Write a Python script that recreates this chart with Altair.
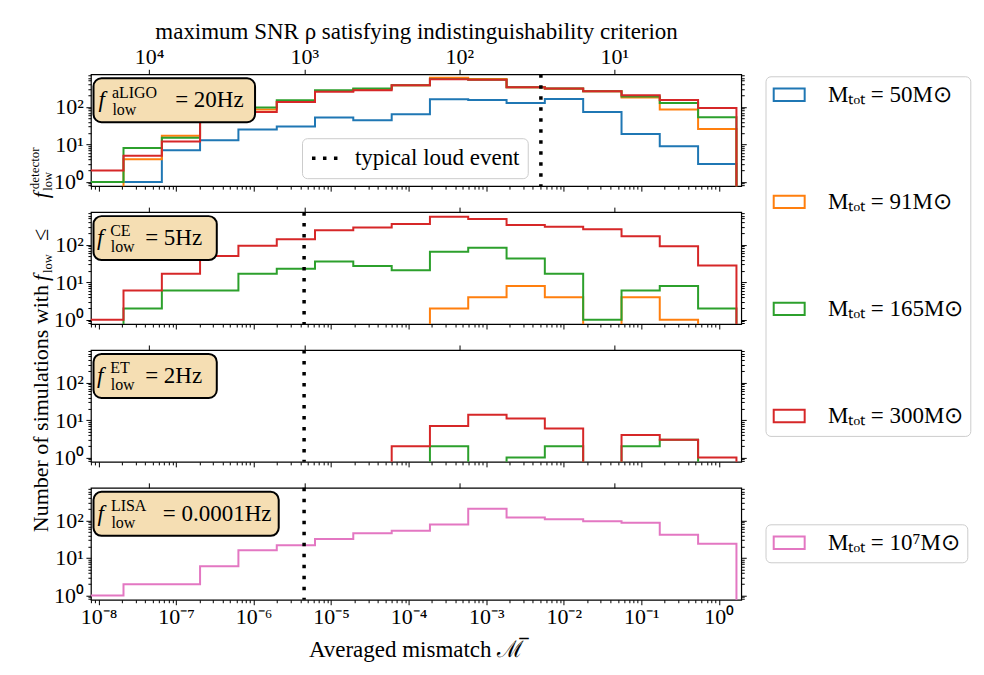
import altair as alt
import pandas as pd

FONT = "Liberation Serif"

# ---------------- data ----------------
EDGES = [6.75e-9, 2.10e-8, 6.56e-8, 2.04e-7, 6.37e-7, 1.99e-6, 6.19e-6, 1.93e-5,
         6.04e-5, 1.88e-4, 5.86e-4, 1.83e-3, 5.70e-3, 1.78e-2, 5.56e-2, 0.173, 0.540, 1.687]

SERIES_LABELS = ["Mₜₒₜ = 50M⊙", "Mₜₒₜ = 91M⊙", "Mₜₒₜ = 165M⊙", "Mₜₒₜ = 300M⊙"]
SERIES_COLORS = ["#1f77b4", "#ff7f0e", "#2ca02c", "#d62728"]
LISA_LABEL = "Mₜₒₜ = 10⁷M⊙"
LISA_COLOR = "#e377c2"

ALIGO_50 = [1, 1, 7, 13, 25, 30, 52, 44, 64, 160, 154, 128, 163, 73, 19, 9, 3]
ALIGO_91 = [0, 4, 17, 55, 86, 140, 265, 300, 380, 600, 560, 336, 305, 262, 180, 85, 26]
ALIGO_165 = [1, 8, 15, 55, 96, 150, 280, 310, 380, 560, 530, 336, 310, 262, 190, 128, 53]
ALIGO_300 = [2, 5, 12, 50, 73, 136, 253, 280, 380, 550, 530, 336, 310, 262, 206, 154, 94]

CE_91 = [0, 0, 0, 0, 0, 0, 0, 0, 0, 2, 4, 8, 4, 0, 4, 1, 0]
CE_165 = [0, 2, 6, 6, 17, 23, 36, 27, 21, 65, 83, 43, 17, 1, 6, 8, 2]
CE_300 = [1, 6, 17, 50, 94, 141, 246, 290, 358, 560, 490, 336, 303, 262, 170, 92, 28]

ET_165 = [0, 0, 0, 0, 0, 0, 0, 0, 0, 2, 0, 1, 2, 0, 2, 3, 0]
ET_300 = [0, 0, 0, 0, 0, 0, 0, 0, 2, 7, 14, 11, 6, 0, 4, 3, 1]

LISA_1E7 = [1, 2, 2, 6, 16, 22, 32, 46, 53, 78, 205, 120, 108, 96, 87, 42, 24]

LOUD_MISMATCH = [5.07e-3, 4.48e-6, 4.48e-6, 4.48e-6]
LOUD_LABEL = "typical loud event"

X_DOMAIN = [7.98e-9, 1.945]
Y_DOMAIN = [0.77, 745]
RHO_DOMAIN = [1.521, 23746]

X_MAJOR = [1e-8, 1e-7, 1e-6, 1e-5, 1e-4, 1e-3, 1e-2, 1e-1, 1.0]
Y_MAJOR = [1, 10, 100]
RHO_MAJOR = [10, 100, 1000, 10000]

TOP_TITLE = "maximum SNR ρ satisfying indistinguishability criterion"
BOTTOM_TITLE = "Averaged mismatch ℳ̅"

# ---------------- helpers ----------------
TINY = 0.01
ONE = pd.DataFrame({"x": [1e-3], "y": [10.0], "rho": [100.0]})

X_MINOR = [k * 10.0 ** e for e in range(-9, 1) for k in range(2, 10)
           if X_DOMAIN[0] <= k * 10.0 ** e <= X_DOMAIN[1]]
Y_MINOR = [k * 10.0 ** e for e in range(-1, 3) for k in range(2, 10)
           if Y_DOMAIN[0] <= k * 10.0 ** e <= Y_DOMAIN[1]]

SUP = {"-": "⁻", "0": "⁰", "1": "¹", "2": "²", "3": "³", "4": "⁴",
       "5": "⁵", "6": "⁶", "7": "⁷", "8": "⁸", "9": "⁹"}


def pow_label(e):
    return "10" + "".join(SUP[c] for c in str(e))


def label_expr(exps):
    arr = ",".join("'" + pow_label(e) + "'" for e in exps)
    return "[" + arr + "][round(log(datum.value)/LN10)-(" + str(exps[0]) + ")]"


XS = alt.Scale(type="log", domain=X_DOMAIN, nice=False)
YS = alt.Scale(type="log", domain=Y_DOMAIN, nice=False)
RS = alt.Scale(type="log", domain=RHO_DOMAIN, nice=False, reverse=True)
CS = alt.Scale(domain=SERIES_LABELS, range=SERIES_COLORS)
SS = alt.Scale(domain=[LISA_LABEL], range=[LISA_COLOR])
DS = alt.Scale(domain=[LOUD_LABEL], range=[[3.5, 7.5]])

RECT = "M-1.5,-0.6H1.5V0.6H-1.5Z"
LEG_BOX = dict(title=None, direction="vertical", fillColor="white",
               strokeColor="#cccccc", cornerRadius=5, labelFont=FONT,
               labelFontSize=23, labelLimit=400, labelColor="black")
LEG_COLOR = alt.Legend(orient="none", legendX=675.3, legendY=2,
                       symbolType=RECT, symbolSize=427, symbolOffset=5.2,
                       symbolStrokeWidth=2, symbolFillColor="white",
                       labelOffset=27.3, rowPadding=83.2, padding=7, **LEG_BOX)
LEG_LISA = alt.Legend(orient="none", legendX=675.3, legendY=450.5,
                      symbolType=RECT, symbolSize=427, symbolOffset=5.2,
                      symbolStrokeWidth=2, symbolFillColor="white",
                      labelOffset=27.3, padding=7, **LEG_BOX)
LEG_DASH = alt.Legend(orient="none", legendX=211.3, legendY=64,
                      symbolType="M-1.4,0H1.4", symbolSize=400, symbolOffset=4,
                      symbolStrokeWidth=3.5, symbolStrokeColor="black",
                      labelOffset=17, padding=8, **LEG_BOX)


def step_df(series):
    rows = []
    for label, counts in series:
        pts = [(EDGES[0], TINY)]
        pts += [(EDGES[k], c if c > 0 else TINY) for k, c in enumerate(counts)]
        pts += [(EDGES[-1], counts[-1] if counts[-1] > 0 else TINY), (EDGES[-1], TINY)]
        for i, (x, y) in enumerate(pts):
            rows.append({"series": label, "i": i, "x": x, "y": y})
    return pd.DataFrame(rows)


def txt(s, x, y, size=23, style="normal", angle=0, align="left"):
    return alt.Chart(ONE).mark_text(
        text=s, font=FONT, fontSize=size, fontStyle=style, angle=angle,
        align=align, baseline="alphabetic", color="black"
    ).encode(x=alt.value(x), y=alt.value(y))


def panel(idx, series, lisa, sup, rest, box_right, rest_x, sub_x, f_x,
          show_top, show_bottom, extra=()):
    df = step_df(series)
    xaxis = alt.Axis(orient="bottom", values=X_MAJOR, labels=show_bottom,
                     labelExpr=label_expr(list(range(-8, 1))),
                     title=BOTTOM_TITLE if show_bottom else None,
                     tickSize=5, labelPadding=2, titlePadding=10.5, labelFlush=False)
    yaxis = alt.Axis(orient="left", values=Y_MAJOR, labelExpr=label_expr([0, 1, 2]),
                     title=None, tickSize=5, labelPadding=2.5)
    enc = dict(
        x=alt.X("x:Q", scale=XS, axis=xaxis),
        y=alt.Y("y:Q", scale=YS, axis=yaxis),
        order=alt.Order("i:Q"),
    )
    if lisa:
        enc["stroke"] = alt.Stroke("series:N", scale=SS, legend=LEG_LISA)
    else:
        enc["color"] = alt.Color("series:N", scale=CS, legend=LEG_COLOR)
    lines = alt.Chart(df).mark_line(interpolate="step-after", clip=True,
                                    strokeWidth=2).encode(**enc)

    minor = alt.Chart(ONE).mark_point(opacity=0).encode(
        x=alt.X("x:Q", scale=XS, axis=alt.Axis(orient="bottom", values=X_MINOR,
                                                labels=False, tickSize=3, title=None)),
        y=alt.Y("y:Q", scale=YS, axis=alt.Axis(orient="left", values=Y_MINOR,
                                                labels=False, tickSize=3, title=None)))
    right_major = alt.Chart(ONE).mark_point(opacity=0).encode(
        x=alt.X("x:Q", scale=XS, axis=None),
        y=alt.Y("y:Q", scale=YS, axis=alt.Axis(orient="right", values=Y_MAJOR,
                                                labels=False, tickSize=5, title=None)))
    right_minor = alt.Chart(ONE).mark_point(opacity=0).encode(
        x=alt.X("x:Q", scale=XS, axis=None),
        y=alt.Y("y:Q", scale=YS, axis=alt.Axis(orient="right", values=Y_MINOR,
                                                labels=False, tickSize=3, title=None)))
    rule = alt.Chart(pd.DataFrame({"x": [LOUD_MISMATCH[idx]], "lab": [LOUD_LABEL]})).mark_rule(
        strokeWidth=3.5, color="black", strokeCap="butt"
    ).encode(x=alt.X("x:Q", scale=XS, axis=None),
             strokeDash=alt.StrokeDash("lab:N", scale=DS, legend=LEG_DASH))

    box = alt.Chart(ONE).mark_rect(cornerRadius=8, fill="#f5deb3", stroke="black",
                                   strokeWidth=2).encode(
        x=alt.value(2.6), x2=alt.value(box_right), y=alt.value(4), y2=alt.value(48))
    texts = [
        txt("f", f_x, 33, 23, "italic"),
        txt(sup, sub_x, 23.5, 16),
        txt("low", sub_x + 0.5, 40.3, 16),
        txt(rest, rest_x, 33, 23),
    ]
    inner = alt.layer(lines, minor, right_major, right_minor, rule, box, *texts,
                      *extra).resolve_axis(x="independent", y="independent")

    rho = alt.Chart(ONE).mark_point(opacity=0).encode(
        x=alt.X("rho:Q", scale=RS,
                axis=alt.Axis(orient="top", values=RHO_MAJOR, labels=show_top,
                              labelExpr=label_expr([1, 2, 3, 4]),
                              title=TOP_TITLE if show_top else None,
                              tickSize=5, labelPadding=1, titlePadding=2)),
        y=alt.value(0))
    return alt.layer(inner, rho).resolve_scale(x="independent").properties(
        width=651, height=112)


ytitle = [
    txt("Number of simulations with", -43.2, 73, 22, angle=270, align="right"),
    txt("f", -43.2, 69, 22, "italic", angle=270),
    txt("low", -39, 61, 12.5, angle=270),
    txt("≤", -43.2, 29, 22, angle=270),
    txt("f", -43.2, -14, 22, "italic", angle=270),
    txt("low", -39, -21.5, 12.5, angle=270),
    txt("detector", -52, -23, 13, angle=270),
]

p1 = panel(0, [(SERIES_LABELS[0], ALIGO_50), (SERIES_LABELS[1], ALIGO_91),
               (SERIES_LABELS[2], ALIGO_165), (SERIES_LABELS[3], ALIGO_300)],
           False, "aLIGO", "= 20Hz", 164.3, 84.3, 21, 7.6, True, False)
p2 = panel(1, [(SERIES_LABELS[1], CE_91), (SERIES_LABELS[2], CE_165),
               (SERIES_LABELS[3], CE_300)],
           False, "CE", "= 5Hz", 126, 54.3, 19.3, 6, False, False, extra=ytitle)
p3 = panel(2, [(SERIES_LABELS[2], ET_165), (SERIES_LABELS[3], ET_300)],
           False, "ET", "= 2Hz", 126, 54.3, 19.3, 6, False, False)
p4 = panel(3, [(LISA_LABEL, LISA_1E7)],
           True, "LISA", "= 0.0001Hz", 188, 72, 20, 6.5, False, True)

chart = alt.vconcat(p1, p2, p3, p4, spacing=26, bounds="flush").properties(
    padding={"left": 20, "top": 11, "right": 5, "bottom": 5}
).configure(background="white", font=FONT).configure_axis(
    labelFont=FONT, labelFontSize=22, labelColor="black",
    titleFont=FONT, titleFontSize=23, titleFontWeight="normal", titleColor="black",
    tickColor="black", tickWidth=1, grid=False, domain=False
).configure_view(stroke="black", strokeWidth=1.2).configure_legend(
    labelFont=FONT, labelFontSize=23, labelColor="black")

chart.save("out.html", embed_options={"renderer": "svg", "actions": False})
